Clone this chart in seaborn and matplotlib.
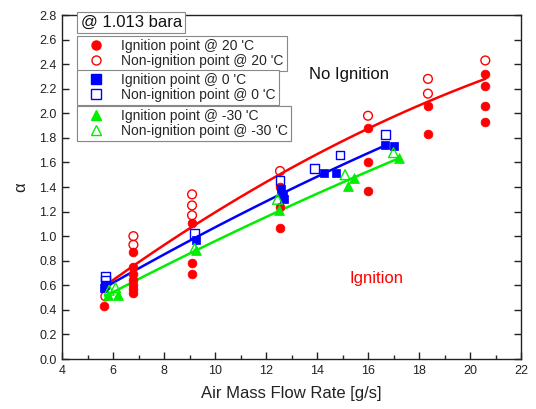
import numpy as np
import pandas as pd
import matplotlib
matplotlib.use("Agg")
import matplotlib.pyplot as plt
from matplotlib.lines import Line2D
import seaborn as sns

# ---------------- data ----------------
# Ignition points @ 20 'C
ign20_x = [5.65, 6.8, 6.8, 6.8, 6.8, 6.8, 6.8, 6.8, 9.1, 9.1, 9.1, 12.55, 12.55, 12.55,
           16.0, 16.0, 16.0, 18.35, 18.35, 20.6, 20.6, 20.6, 20.6]
ign20_y = [0.43, 0.87, 0.75, 0.69, 0.64, 0.60, 0.57, 0.54, 1.11, 0.78, 0.69, 1.40, 1.24, 1.07,
           1.88, 1.60, 1.37, 2.06, 1.83, 2.32, 2.22, 2.06, 1.93]
# Non-ignition points @ 20 'C
non20_x = [5.7, 6.8, 6.8, 9.1, 9.1, 9.1, 12.55, 16.0, 18.35, 18.35, 20.6]
non20_y = [0.51, 1.00, 0.93, 1.34, 1.25, 1.17, 1.53, 1.98, 2.28, 2.16, 2.43]
# Ignition points @ 0 'C
ign0_x = [5.65, 5.7, 9.25, 12.6, 12.65, 12.7, 14.27, 14.73, 16.65, 17.0]
ign0_y = [0.58, 0.60, 0.97, 1.38, 1.34, 1.30, 1.51, 1.51, 1.74, 1.73]
# Non-ignition points @ 0 'C
non0_x = [5.7, 5.7, 9.2, 12.55, 13.9, 14.9, 16.7]
non0_y = [0.67, 0.64, 1.02, 1.45, 1.55, 1.66, 1.83]
# Ignition points @ -30 'C
ignm30_x = [5.8, 6.2, 9.25, 12.5, 15.2, 15.45, 17.2]
ignm30_y = [0.52, 0.52, 0.89, 1.21, 1.41, 1.47, 1.64]
# Non-ignition points @ -30 'C
nonm30_x = [5.85, 6.1, 9.2, 12.45, 15.1, 17.0]
nonm30_y = [0.56, 0.58, 0.90, 1.30, 1.50, 1.68]

# boundary (fit) lines
fit20_x = [5.65, 9.1, 12.55, 16.0, 18.35, 20.6]
fit20_y = [0.59, 1.07, 1.52, 1.87, 2.08, 2.29]
fit0_x = [5.65, 9.2, 12.6, 14.3, 16.7]
fit0_y = [0.58, 0.98, 1.35, 1.51, 1.74]
fitm30_x = [5.7, 9.2, 12.5, 15.3, 17.2]
fitm30_y = [0.51, 0.88, 1.21, 1.45, 1.64]

labels = ["Ignition point @ 20 'C", "Non-ignition point @ 20 'C",
          "Ignition point @ 0 'C", "Non-ignition point @ 0 'C",
          "Ignition point @ -30 'C", "Non-ignition point @ -30 'C"]

RED, BLUE, GREEN = "#ff0000", "#0000ff", "#00ee00"

# ---------------- plot ----------------
sns.set_theme(style="white")
plt.rcParams["font.family"] = ["Liberation Sans", "DejaVu Sans"]

fig = plt.figure(figsize=(5.36, 4.09), dpi=100)
ax = fig.add_axes([62/536, 50/409, 459/536, 344/409])

def smooth(xs, ys, deg=2):
    c = np.polyfit(xs, ys, deg)
    xx = np.linspace(min(xs), max(xs), 100)
    return xx, np.polyval(c, xx)

for fx, fy, col in [(fit20_x, fit20_y, RED), (fit0_x, fit0_y, BLUE), (fitm30_x, fitm30_y, GREEN)]:
    xx, yy = smooth(fx, fy)
    sns.lineplot(x=xx, y=yy, color=col, lw=1.8, ax=ax, zorder=2)

ms = 40
sns.scatterplot(x=ign20_x, y=ign20_y, marker="o", color=RED, edgecolor=RED, s=ms, ax=ax, zorder=3)
ax.scatter(non20_x, non20_y, marker="o", facecolors="none", edgecolors=RED, s=ms, linewidths=1.0, zorder=3)
sns.scatterplot(x=ign0_x, y=ign0_y, marker="s", color=BLUE, edgecolor=BLUE, s=ms, ax=ax, zorder=3)
ax.scatter(non0_x, non0_y, marker="s", facecolors="none", edgecolors=BLUE, s=ms, linewidths=1.0, zorder=3)
sns.scatterplot(x=ignm30_x, y=ignm30_y, marker="^", color=GREEN, edgecolor=GREEN, s=ms + 10, ax=ax, zorder=3)
ax.scatter(nonm30_x, nonm30_y, marker="^", facecolors="none", edgecolors=GREEN, s=ms + 10, linewidths=1.0, zorder=3)

ax.set_xlim(4, 22)
ax.set_ylim(0, 2.8)
ax.set_xticks(np.arange(4, 23, 2))
ax.set_xticks(np.arange(5, 22, 2), minor=True)
ax.set_yticks(np.arange(0, 2.81, 0.2))
ax.set_yticklabels([f"{v:.1f}" for v in np.arange(0, 2.81, 0.2)])
ax.tick_params(which="major", direction="in", length=5, width=1, colors="#222222",
               labelsize=9, right=True, top=False, left=True, bottom=True, pad=4)
ax.tick_params(which="minor", direction="in", length=3, width=1, bottom=True, top=False)
ax.tick_params(axis="both", labelcolor="#222222")
for sp in ax.spines.values():
    sp.set_color("#222222")
    sp.set_linewidth(1.0)

ax.set_xlabel("Air Mass Flow Rate [g/s]", fontsize=12, color="#222222", labelpad=7)
ax.set_ylabel("α", fontsize=12, color="#222222", labelpad=8)

ax.text(0.538, 0.826, "No Ignition", transform=ax.transAxes, fontsize=12, color="#111111",
        va="center", ha="left")
ax.text(0.627, 0.233, "Ignition", transform=ax.transAxes, fontsize=12, color=RED,
        va="center", ha="left")

def handles(col, mk):
    return [Line2D([], [], ls="none", marker=mk, color=col, mfc=col, mec=col, ms=6.5),
            Line2D([], [], ls="none", marker=mk, color=col, mfc="none", mec=col, ms=6.5, mew=1.0)]

leg_kw = dict(loc="upper left", frameon=True, fancybox=False, fontsize=10,
              handlelength=2.4, handletextpad=0.6, labelspacing=0.1, borderpad=0.2,
              borderaxespad=0, edgecolor="#888888", framealpha=1)
tops = [0.939, 0.840, 0.7355]
groups = [(RED, "o"), (BLUE, "s"), (GREEN, "^")]
for i, ((col, mk), top) in enumerate(zip(groups, tops)):
    lg = ax.legend(handles=handles(col, mk), labels=labels[2*i:2*i+2],
                   bbox_to_anchor=(0.0327, top), **leg_kw)
    lg.get_frame().set_linewidth(0.8)
    ax.add_artist(lg)

ax.text(0.0327 + 0.008, 1.0, "@ 1.013 bara", transform=ax.transAxes, fontsize=12,
        color="#111111", va="top", ha="left",
        bbox=dict(boxstyle="square,pad=0.2", fc="white", ec="#888888", lw=0.8), zorder=10)

fig.savefig("out.png", dpi=100)
